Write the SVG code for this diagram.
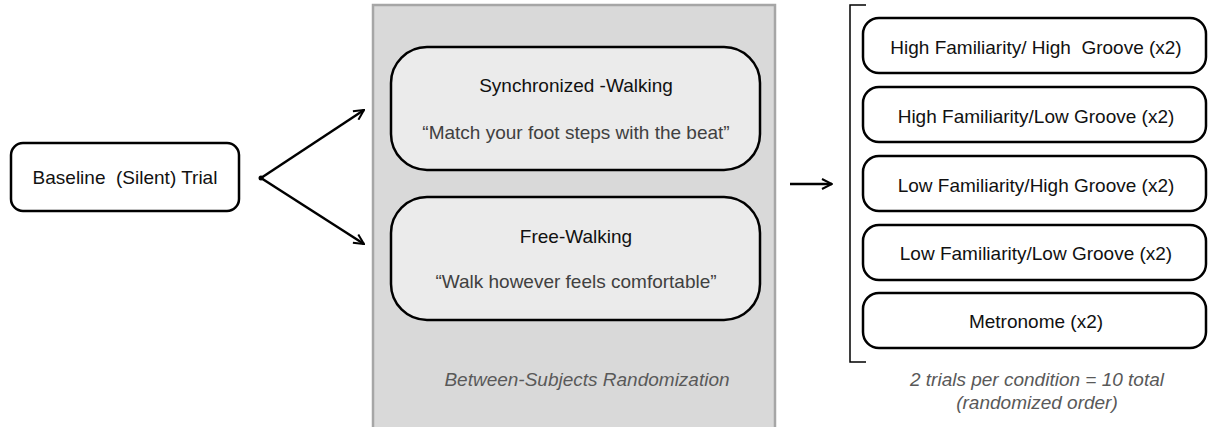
<svg xmlns="http://www.w3.org/2000/svg" width="1208" height="427" viewBox="0 0 1208 427">
<style>
text{font-family:"Liberation Sans",Arial,sans-serif;font-size:19px;text-anchor:middle;fill:#111;white-space:pre}
.q{fill:#404040}
.it{font-style:italic;fill:#595959}
.box{fill:#fff;stroke:#000;stroke-width:2.5}
.gbox{fill:#ebebeb;stroke:#000;stroke-width:2.5}
.ln{fill:none;stroke:#000;stroke-width:2.5}
</style>
<defs>
<marker id="ah" viewBox="0 0 12 12" refX="11" refY="6" markerWidth="12" markerHeight="12" markerUnits="userSpaceOnUse" orient="auto">
<path d="M1,1 L11,6 L1,11" fill="none" stroke="#000" stroke-width="2"/>
</marker>
</defs>
<g id="panel">
<rect x="373" y="5" width="402" height="430" fill="#d9d9d9" stroke="#a6a6a6" stroke-width="2.5"/>
<text class="it" x="587" y="386">Between-Subjects Randomization</text>
</g>
<g id="baseline">
<rect class="box" x="11" y="143" width="228" height="68" rx="12"/>
<text x="125" y="184" font-size="18">Baseline  (Silent) Trial</text>
</g>
<g id="sync">
<rect class="gbox" x="391" y="47" width="369" height="123" rx="36"/>
<text x="576" y="92">Synchronized -Walking</text>
<text class="q" x="576" y="139">“Match your foot steps with the beat”</text>
</g>
<g id="free">
<rect class="gbox" x="391" y="197" width="369" height="123" rx="36"/>
<text x="576" y="243">Free-Walking</text>
<text class="q" x="576" y="288">“Walk however feels comfortable”</text>
</g>
<g id="c1">
<rect class="box" x="863" y="18" width="343" height="55" rx="16"/>
<text x="1036" y="54">High Familiarity/ High  Groove (x2)</text>
</g>
<g id="c2">
<rect class="box" x="863" y="87" width="343" height="55" rx="16"/>
<text x="1036" y="123">High Familiarity/Low Groove (x2)</text>
</g>
<g id="c3">
<rect class="box" x="863" y="156" width="343" height="55" rx="16"/>
<text x="1036" y="192">Low Familiarity/High Groove (x2)</text>
</g>
<g id="c4">
<rect class="box" x="863" y="225" width="343" height="55" rx="16"/>
<text x="1036" y="260">Low Familiarity/Low Groove (x2)</text>
</g>
<g id="c5">
<rect class="box" x="863" y="293" width="343" height="55" rx="16"/>
<text x="1036" y="328">Metronome (x2)</text>
</g>
<g id="note">
<text class="it" x="1037" y="386">2 trials per condition = 10 total</text>
<text class="it" x="1037" y="409">(randomized order)</text>
</g>
<g id="connectors">
<circle cx="261" cy="178" r="2.5" fill="#000"/>
<line class="ln" x1="261" y1="178" x2="364" y2="110" marker-end="url(#ah)"/>
<line class="ln" x1="261" y1="178" x2="364" y2="244" marker-end="url(#ah)"/>
<line class="ln" x1="790" y1="184" x2="832" y2="184" stroke-width="2" marker-end="url(#ah)"/>
<path d="M866,5 H850 V362 H866" fill="none" stroke="#000" stroke-width="1.5"/>
</g>
</svg>
